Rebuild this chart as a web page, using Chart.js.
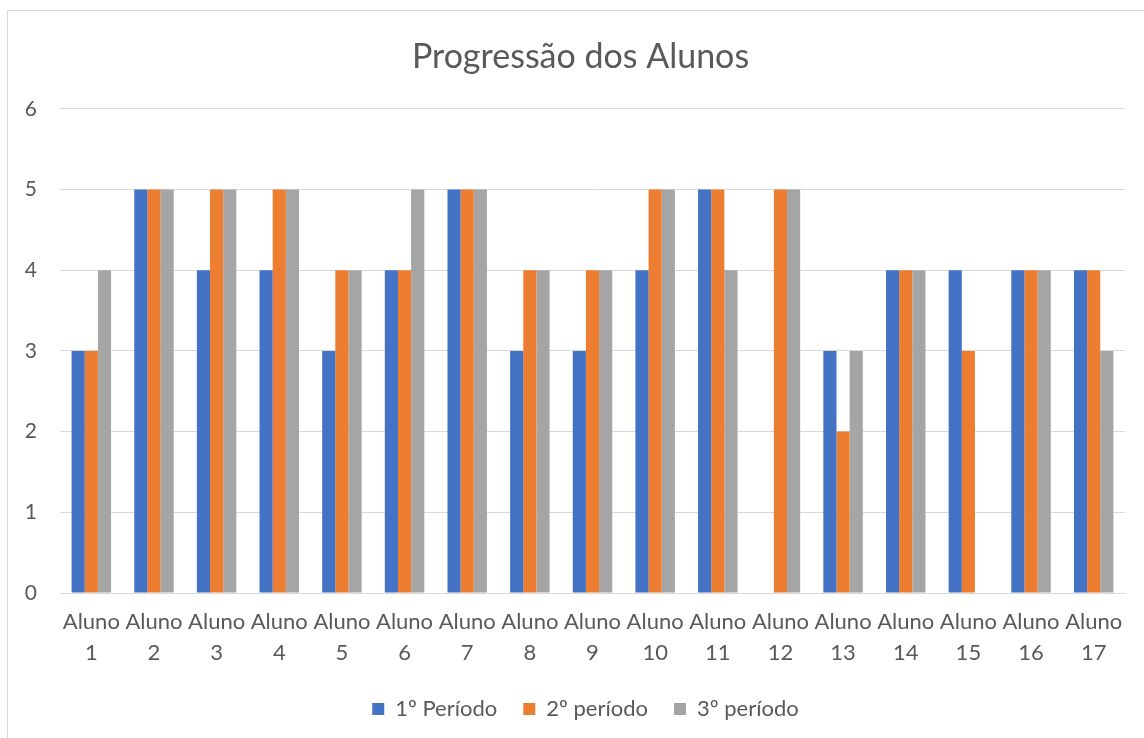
<!DOCTYPE html>
<html lang="pt">
<head>
<meta charset="utf-8">
<title>Progressão dos Alunos</title>
<script src="https://cdn.jsdelivr.net/npm/chart.js@4/dist/chart.umd.min.js"></script>
<style>
  html, body { margin: 0; padding: 0; background: #fff; }
  #wrap { position: relative; width: 1144px; height: 738px; overflow: hidden; }
  #moldura { position: absolute; left: 7px; top: 10px; width: 1200px; height: 800px;
             border-left: 1px solid #d9d9d9; border-top: 1px solid #d9d9d9; pointer-events: none; }
  canvas { position: absolute; left: 0; top: 0; }
</style>
</head>
<body>
<div id="wrap">
  <canvas id="grafico" width="1144" height="738"></canvas>
  <div id="moldura"></div>
</div>
<script>
// dados por aluno
const alunos = ['1','2','3','4','5','6','7','8','9','10','11','12','13','14','15','16','17'];
const periodo1 = [3, 5, 4, 4, 3, 4, 5, 3, 3, 4, 5, null, 3, 4, 4, 4, 4];
const periodo2 = [3, 5, 5, 5, 4, 4, 5, 4, 4, 5, 5, 5, 2, 4, 3, 4, 4];
const periodo3 = [4, 5, 5, 5, 4, 5, 5, 4, 4, 5, 4, 5, 3, 4, null, 4, 3];
const nomesSeries = ['1º Período', '2º período', '3º período'];
const cores = ['#4472c4', '#ed7d31', '#a5a5a5'];

const fonte = 'Lato, "Open Sans", sans-serif';
const cinzaTexto = '#595959';
const cinzaGrade = '#d9d9d9';

// legenda com altura fixa (o padding grande só afasta os itens);
// título e legenda centrados um pouco mais à direita
const ajusteLayout = {
  id: 'ajusteLayout',
  beforeLayout(chart) {
    const leg = chart.legend;
    if (leg && !leg.__fixo) {
      const fitOrig = leg.fit.bind(leg);
      leg.fit = function() { fitOrig(); this.height = 66; };
      leg.__fixo = true;
    }
  },
  afterLayout(chart) {
    if (chart.legend) chart.legend.left += 46;
    if (chart.titleBlock) chart.titleBlock.left += 36;
  }
};

new Chart(document.getElementById('grafico'), {
  type: 'bar',
  data: {
    labels: alunos.map(n => ['Aluno', n]),
    datasets: [periodo1, periodo2, periodo3].map((d, i) => ({
      label: nomesSeries[i],
      data: d,
      backgroundColor: cores[i],
      borderWidth: 0,
      categoryPercentage: 0.63,
      barPercentage: 1
    }))
  },
  options: {
    responsive: false,
    animation: false,
    layout: { padding: { left: 0, right: 19, top: 0, bottom: 0 } },
    plugins: {
      title: {
        display: true,
        text: 'Progressão dos Alunos',
        color: cinzaTexto,
        font: { family: fonte, size: 34, weight: 'normal', lineHeight: 1.2 },
        padding: { top: 37, bottom: 31 }
      },
      legend: {
        position: 'bottom',
        labels: {
          color: cinzaTexto,
          font: { family: fonte, size: 22, lineHeight: 1.2 },
          boxWidth: 12,
          boxHeight: 12,
          padding: 26
        }
      },
      tooltip: { enabled: false }
    },
    scales: {
      x: {
        afterFit(scale) { scale.height = 79; },
        grid: { display: false, drawTicks: false },
        border: { display: true, color: cinzaGrade, width: 1 },
        ticks: {
          color: cinzaTexto,
          font: { family: fonte, size: 22, lineHeight: 1.4 },
          padding: 14,
          maxRotation: 0,
          minRotation: 0,
          autoSkip: false
        }
      },
      y: {
        min: 0,
        max: 6,
        afterFit(scale) { scale.width = 60; },
        grid: { color: cinzaGrade, lineWidth: 1, drawTicks: false },
        border: { display: false },
        ticks: {
          stepSize: 1,
          color: cinzaTexto,
          font: { family: fonte, size: 21 },
          padding: 23
        }
      }
    }
  },
  plugins: [ajusteLayout]
});
</script>
</body>
</html>
